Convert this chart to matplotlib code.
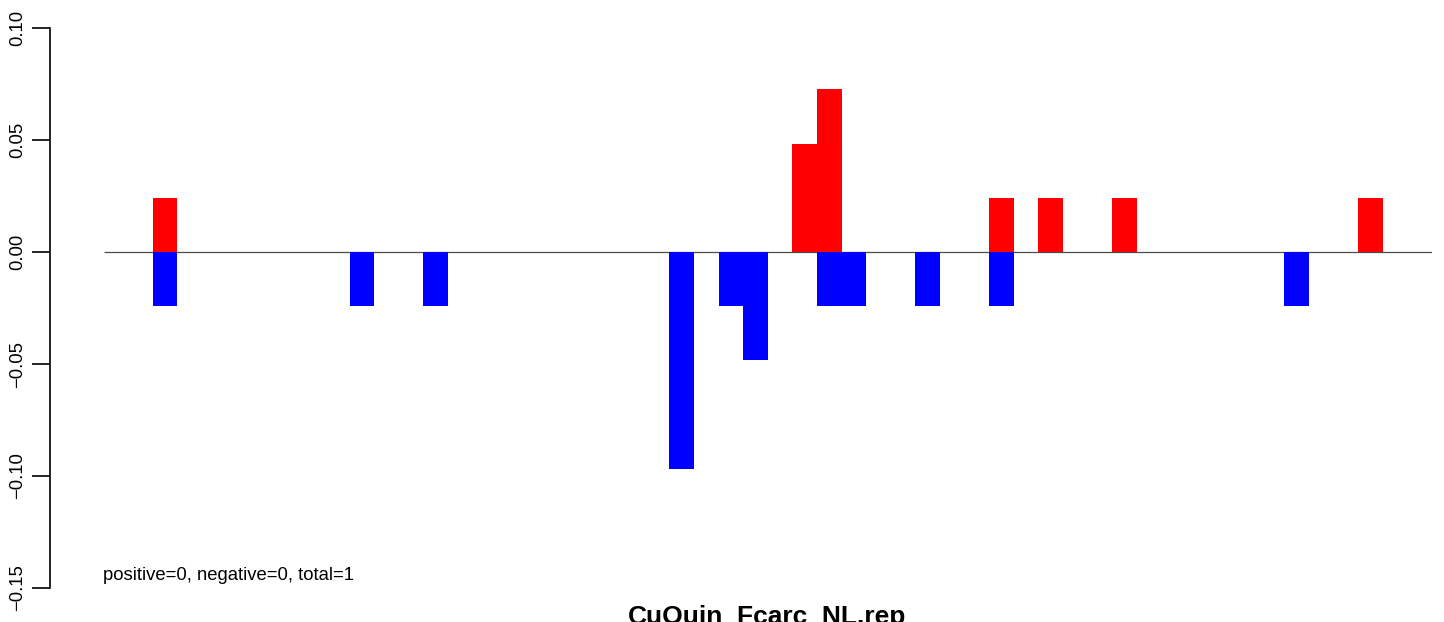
#!/usr/bin/env python3
"""
Positive/negative count bar plot (R barplot look) for CuQuin_Fcarc_NL.rep.
"""

import matplotlib
matplotlib.use("Agg")
import matplotlib.pyplot as plt
import numpy as np

plt.rcParams['font.family'] = ['Liberation Sans', 'DejaVu Sans']

# bins along the x axis
n_bins = 54

# positive (red) bars: bin index -> value
pos_bins = [2, 28, 29, 36, 38, 41, 51]
pos_vals = [0.0242, 0.0484, 0.0726, 0.0242, 0.0242, 0.0242, 0.0242]

# negative (blue) bars: bin index -> value
neg_bins = [2, 10, 13, 23, 25, 26, 29, 30, 33, 36, 48]
neg_vals = [-0.0242, -0.0242, -0.0242, -0.0968, -0.0242, -0.0484,
            -0.0242, -0.0242, -0.0242, -0.0242, -0.0242]

y_ticks = [-0.15, -0.10, -0.05, 0.00, 0.05, 0.10]
title = 'CuQuin_Fcarc_NL.rep'
note = 'positive=0, negative=0, total=1'

W, H = 1444, 622
fig = plt.figure(figsize=(W / 100, H / 100), dpi=100)
ax = fig.add_axes([50 / W, 1 - 588 / H, (1432 - 50) / W, (588 - 28) / H])

ax.bar(np.array(pos_bins), pos_vals, width=1.0, align='edge', color='#ff0000', linewidth=0, zorder=2)
ax.bar(np.array(neg_bins), neg_vals, width=1.0, align='edge', color='#0000ff', linewidth=0, zorder=2)
ax.hlines(0, 0, n_bins, color='#4d4d4d', linewidth=0.9, zorder=1)

ax.set_xlim(-2.18, n_bins)
ax.set_ylim(-0.15, 0.10)

for s in ['top', 'right', 'bottom']:
    ax.spines[s].set_visible(False)
ax.spines['left'].set_linewidth(1.2)
ax.spines['left'].set_bounds(-0.15, 0.10)
ax.set_xticks([])
ax.set_yticks(y_ticks)
ax.set_yticklabels([f'{v:.2f}'.replace('-', '\u2212') for v in y_ticks],
                   rotation=90, va='center', fontsize=13.3)
ax.tick_params(axis='y', length=13, width=1.2, pad=4)

fig.text(103 / W, 1 - 580 / H, note, fontsize=13.3, ha='left', va='baseline')
fig.text(767 / W, 1 - 624 / H, title, fontsize=19, fontweight='bold', ha='center', va='baseline')

plt.savefig('out.png', dpi=100)
